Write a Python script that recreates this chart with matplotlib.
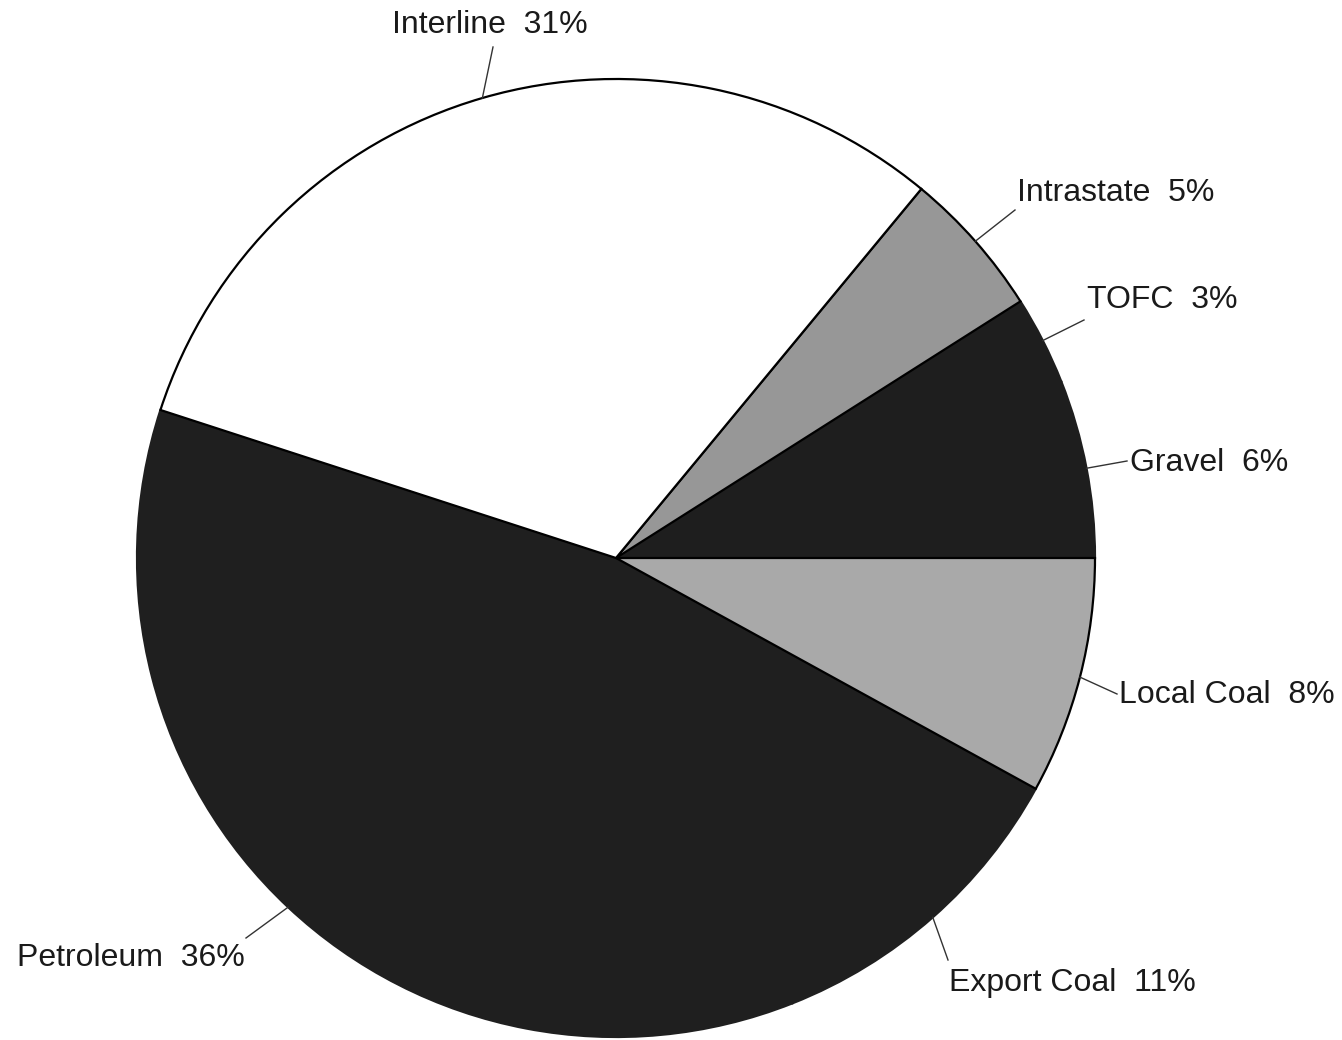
import numpy as np
import matplotlib
matplotlib.use("Agg")
import matplotlib.pyplot as plt

# slices, counter-clockwise from 3 o'clock
categories = ["Gravel", "TOFC", "Intrastate", "Interline", "Petroleum", "Export Coal", "Local Coal"]
shares = [6, 3, 5, 31, 36, 11, 8]
colors = ["#1e1e1e", "#1e1e1e", "#979797", "#ffffff", "#1f1f1f", "#1f1f1f", "#a9a9a9"]
dark = ["#1e1e1e", "#1f1f1f"]

W, H = 1342, 1040
CX, CY, R = 616, H - 558, 479

# leader end (pixel coords, y down) and text anchor for each label
label_layout = {
    "Gravel":      ((1127, 461), (1130, 463), "left"),
    "TOFC":        ((1084, 320), (1087, 300), "left"),
    "Intrastate":  ((1015, 210), (1017, 193), "left"),
    "Interline":   ((493, 47), (490, 25), "center"),
    "Petroleum":   ((246, 938), (245, 958), "right"),
    "Export Coal": ((948, 960), (949, 983), "left"),
    "Local Coal":  ((1117, 694), (1119, 695), "left"),
}

plt.rcParams['font.family'] = ['Liberation Sans', 'DejaVu Sans']

fig = plt.figure(figsize=(W / 100, H / 100), dpi=100)
ax = fig.add_axes([0, 0, 1, 1])

wedges, _ = ax.pie(shares, colors=colors, startangle=0, counterclock=True,
                   center=(CX, CY), radius=R, frame=True,
                   wedgeprops=dict(edgecolor='black', linewidth=1.6))
ax.set_xlim(0, W)
ax.set_ylim(0, H)
ax.set_aspect('equal')
ax.axis('off')

# dark slices blend into each other, light ones keep the black outline on top
for w, c in zip(wedges, colors):
    if c in dark:
        w.set_edgecolor(c)
        w.set_zorder(1)
    else:
        w.set_zorder(2)

for w, name, pct in zip(wedges, categories, shares):
    mid = np.deg2rad((w.theta1 + w.theta2) / 2)
    x0 = CX + R * np.cos(mid)
    y0 = CY + R * np.sin(mid)
    (lx, ly), (tx, ty), ha = label_layout[name]
    ax.plot([x0, lx], [y0, H - ly], color='#333333', lw=1.0)
    ax.text(tx, H - ty, f"{name}  {pct}%", ha=ha, va='center',
            fontsize=23, color='#1a1a1a')

fig.savefig("out.png", dpi=100, facecolor='white')
